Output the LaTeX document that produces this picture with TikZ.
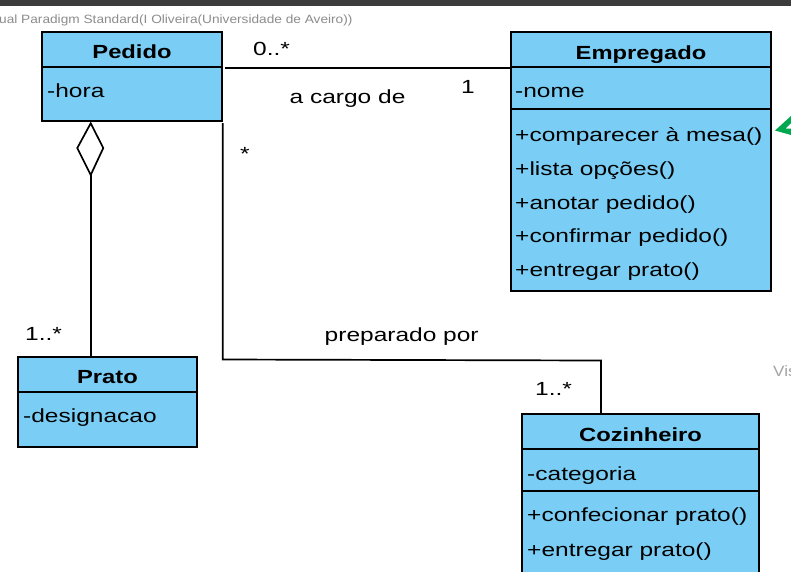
\documentclass[tikz,border=0pt]{standalone}
\usepackage{fontspec}
\usetikzlibrary{calc}
\setmainfont{Liberation Sans}[FakeStretch=1.29, BoldFeatures={FakeStretch=1.25}]
\newfontfamily\hdrfont{Liberation Sans}[FakeStretch=1.14]
\definecolor{clsfill}{RGB}{122,206,245}
\definecolor{topbar}{RGB}{60,60,60}
\definecolor{vpgreen}{RGB}{0,168,80}
\definecolor{hdrgray}{RGB}{140,140,140}
\begin{document}
\begin{tikzpicture}[x=1pt,y=-1pt,
  comp/.style={draw=black, fill=clsfill, line width=1.6pt, rectangle, inner sep=0pt, outer sep=0pt, anchor=north west},
  title/.style={font=\bfseries\fontsize{19}{21}\selectfont, anchor=base, inner sep=0pt},
  item/.style={font=\fontsize{19}{21}\selectfont, anchor=base west, inner sep=0pt},
  lbl/.style={font=\fontsize{19}{21}\selectfont, anchor=base, inner sep=0pt},
  conn/.style={line width=1.7pt, draw=black},
  aggr/.style={draw=black, fill=white, line width=1.7pt}]
\clip (0,0) rectangle (791,571);
\fill[white] (0,0) rectangle (791,571);
\fill[topbar] (0,0) rectangle (791,6);
\node[font=\hdrfont\fontsize{12}{14}\selectfont, text=hdrgray, anchor=base west, inner sep=0pt] (hdr) at (-1,23.5) {ual Paradigm Standard(I Oliveira(Universidade de Aveiro))};
\node[font=\hdrfont\fontsize{15}{17}\selectfont, text=hdrgray!80, anchor=base west, inner sep=0pt] (vis) at (773,376.5) {Vis};

% Pedido
\node[comp, minimum width=180, minimum height=35] (pedH) at (42,32) {};
\node[comp, minimum width=180, minimum height=54] (pedA) at (42,67) {};
\node[title] (pedT) at (132,58.7) {Pedido};
\node[item] (pedA1) at (47,97.3) {-hora};

% Empregado
\node[comp, minimum width=260, minimum height=35] (empH) at (511,32) {};
\node[comp, minimum width=260, minimum height=42] (empA) at (511,67) {};
\node[comp, minimum width=260, minimum height=182] (empM) at (511,109) {};
\node[title] (empT) at (641,59.3) {Empregado};
\node[item] (empA1) at (515,97.7) {-nome};
\node[item] (empM1) at (515,141.7) {+comparecer à mesa()};
\node[item] (empM2) at (515,175.4) {+lista opções()};
\node[item] (empM3) at (515,209) {+anotar pedido()};
\node[item] (empM4) at (515,242.7) {+confirmar pedido()};
\node[item] (empM5) at (515,276.4) {+entregar prato()};

% Prato
\node[comp, minimum width=179, minimum height=35] (praH) at (18,357) {};
\node[comp, minimum width=179, minimum height=55] (praA) at (18,392) {};
\node[title] (praT) at (107.5,383.3) {Prato};
\node[item] (praA1) at (23,422.7) {-designacao};

% Cozinheiro
\node[comp, minimum width=237, minimum height=35] (cozH) at (522,414) {};
\node[comp, minimum width=237, minimum height=42] (cozA) at (522,449) {};
\node[comp, minimum width=237, minimum height=120] (cozM) at (522,491) {};
\node[title] (cozT) at (640.5,441) {Cozinheiro};
\node[item] (cozA1) at (527,480) {-categoria};
\node[item] (cozM1) at (527,521.7) {+confecionar prato()};
\node[item] (cozM2) at (527,556) {+entregar prato()};

% green arrowhead (cut off at right edge)
\fill[vpgreen] (775,130.5) -- (791,116) -- (791,123) -- (785.5,128.5) -- (791,128.5) -- (791,135) -- cycle;

% association Pedido - Empregado
\coordinate (a1s) at ($(pedH.south east)+(3,1.3)$);
\draw[conn] (a1s) -- (a1s -| empH.west);
\node[item] (m1) at (253,55) {0..*};
\node[item] (m2) at (461,93.3) {1};
\node[lbl] (r1) at (347.5,103) {a cargo de};

% association Pedido - Cozinheiro
\coordinate (a2s) at ($(pedA.south east)+(0.7,2)$);
\coordinate (a2b) at (a2s |- 0,359.5);
\coordinate (a2c) at (601,360.5);
\draw[conn] (a2s) -- (a2b) -- (a2c) -- (a2c |- cozH.north);
\node[item] (m3) at (240,160) {*};
\node[lbl] (r2) at (401.7,341.5) {preparado por};
\node[item] (m4) at (535,395.7) {1..*};

% aggregation Pedido <>- Prato
\coordinate (dtop) at (90.7,123.3);
\coordinate (dbot) at (90.7,175);
\draw[aggr] (dtop) -- (103.3,148) -- (dbot) -- (77.3,148) -- cycle;
\draw[conn] (dbot) -- (dbot |- praH.north);
\node[item] (m5) at (25,340) {1..*};
\end{tikzpicture}
\end{document}
